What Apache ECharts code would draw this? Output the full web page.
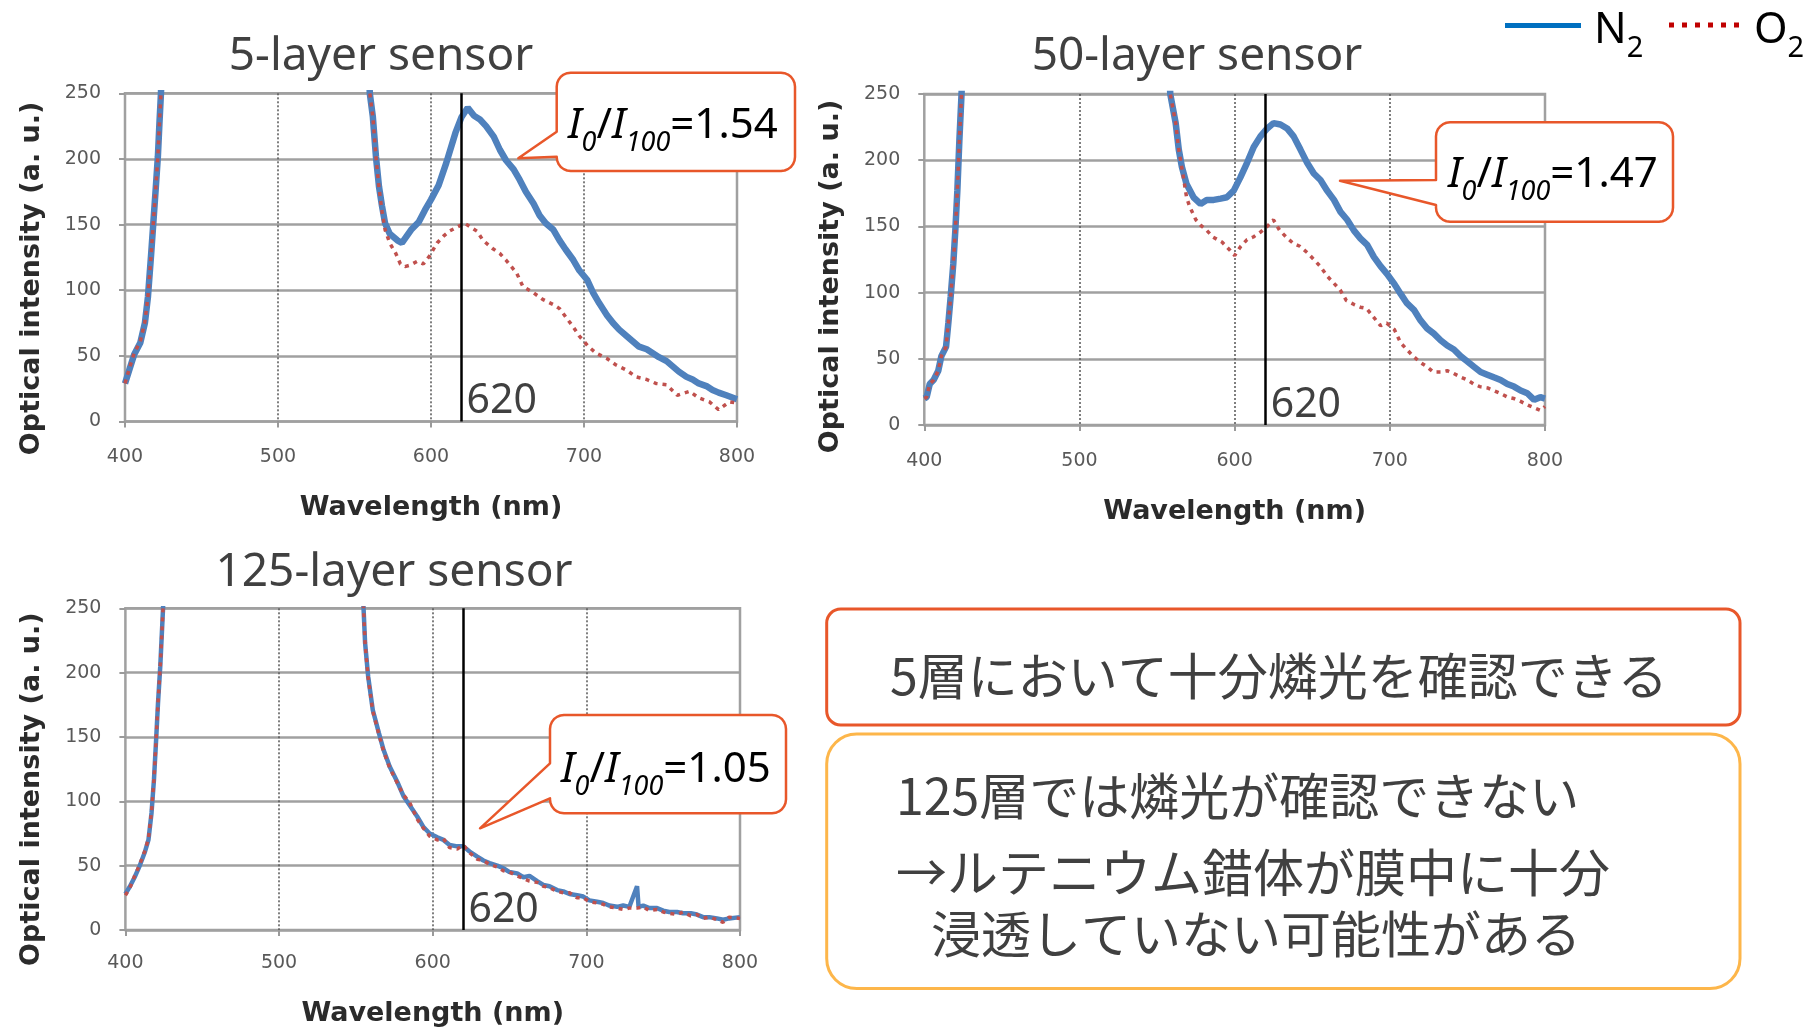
<!DOCTYPE html>
<html>
<head>
<meta charset="utf-8">
<script src="https://cdn.jsdelivr.net/npm/echarts@6/dist/echarts.min.js"></script>
<style>
  html, body { margin: 0; padding: 0; background: #fff; }
  #chart { width: 1813px; height: 1028px; }
</style>
</head>
<body>
<div id="chart"></div>
<script>
// ---- data (wavelength nm / optical intensity a.u.) ----
// values of 300 sit above the 250 top of the axis (curve runs off scale there)

// 5-layer sensor
const wl5N = [400,403,406,410,413,415,417,418.5,420,421.5,422.5,423.5,425,558.5,560,562,564,566,568,570,573,578,581,584,587,592,596,600,605,610,616,620,624,628,632,636,641,645,649,654,658,662,667,671,675,680,684,688,693,697,702,706,710,715,719,723,728,732,736,741,745,749,754,758,762,767,771,775,780,784,788,793,800];
const n2_5 = [29,40,51,60,75,95,126,151,176,202,227,250,300,300,250,232,202,179,164,151,143,138,136,141,146,152,161,169,180,197,220,232,239,233,230,225,217,207,199,192,184,175,166,157,151,146,138,131,123,115,108,98,90,81,75,70,65,61,57,55,52,49,46,42,38,34,32,29,27,24,22,20,17];
const wl5O = [400,403,406,410,413,415,417,418.5,420,421.5,422.5,423.5,425,558.5,560,562,564,566,568,570,573,577,580,583,586,591,595,599,604,608,612,617,622,626,630,634,640,645,649,656,660,667,673,680,684,693,697,703,708,715,721,728,734,741,747,754,761,769,775,782,788,795,800];
const o2_5 = [29,41,52,61,76,95,126,151,176,202,227,250,300,300,250,232,202,178,160,146,136,128,120,118,119,122,120,126,136,141,145,148,151,148,145,138,132,128,123,113,103,98,93,89,86,72,65,57,52,48,43,39,34,32,29,28,20,23,18,15,9,15,14];

// 50-layer sensor
const wl50N = [400,401.5,403.5,406,409,411,414,415.5,417,418.7,420,421.3,422.6,424,425.5,557,558.5,562,564,566,569,573.5,578,582,586.5,591,595,599.4,603.7,608,612.3,616.6,621,625,629.5,633.8,638,642.4,646.7,651,655.3,659.6,664,668.2,672.5,676.8,681,685.4,689.7,694,698.3,702.6,707,711,715.5,719.8,724,728.4,732.7,737,741.3,745.6,750,754.2,758.5,762.8,767,771.4,775.7,780,784.3,788.6,793,797,800];
const n2_50 = [20,21,31,34,41,52,59,77,97,122,147,177,215,250,300,300,250,228,208,195,182,172,167,170,170,171,172,177,187,198,210,218,224,228,227,224,218,208,198,190,185,177,170,161,155,147,141,136,127,120,114,107,99,92,87,79,73,69,64,60,57,52,48,44,40,38,36,34,31,29,26,24,19,21,20];
const wl50O = [400,401.5,403.5,406,409,411,414,415.5,417,418.7,420,421.3,422.6,424,425.5,557,558.5,562,564,567,569,571,575,578,582,586,592,597,600,604,608,612,617,621,625,629,634,638,642,647,651,655,660,664,668,672,677,681,685,694,698,703,707,711,715,720,724,728,733,737,741,746,750,754,758,763,767,771,776,780,784,789,793,797,800];
const o2_50 = [20,21,31,34,41,52,59,77,97,122,147,177,215,250,300,300,250,228,208,187,172,165,155,151,147,142,138,132,128,135,140,142,146,150,155,147,141,137,135,130,125,120,112,107,102,94,91,89,88,75,77,72,62,57,52,47,44,40,40,41,39,36,34,31,29,28,26,24,21,20,18,15,13,11,14];

// 125-layer sensor
const wl125 = [400,403,406,409,412.5,415,417,418.6,420,421.2,422.7,424.5,426,553,555,556,558,561,565,568,572,577,581,585,590,594,598,603,607,611,616,620,624,629,633,637,642,646,650,655,659,663,668,672,676,681,685,689,694,698,702,707,711,715,720,724,728,733,734,737,741,746,750,754,759,763,768,772,776,780,785,789,793,800];
const n2_125 = [28,34,41,49,60,70,91,117,148,176,205,250,300,300,250,223,197,171,153,140,127,115,104,97,88,80,75,72,70,66,65,65,61,57,54,52,50,48,45,44,41,42,38,35,34,31,30,28,27,26,23,22,21,19,18,19,18,34,18,19,17,17,15,14,14,13,13,12,10,10,9,8,9,10];
const o2_125 = [27,33,42,50,61,71,92,117,148,176,205,250,300,300,250,222,196,170,152,139,126,114,105,99,86,79,73,70,71,64,63,66,60,55,54,51,49,46,45,42,40,38,37,34,33,30,29,29,25,25,22,21,20,18,17,16,17,17,17,18,15,16,14,13,12,14,11,12,9,10,8,6,10,9];

const titles = ['5-layer sensor', '50-layer sensor', '125-layer sensor'];
const ratios = ['1.54', '1.47', '1.05'];
const yTicks = [0, 50, 100, 150, 200, 250];
const xTicks = [400, 500, 600, 700, 800];
const marker = 620;

const zip = (xs, ys) => xs.map((x, i) => [x, ys[i]]);

const grids = [
  { left: 125, top: 93.3, width: 612, height: 328.2 },
  { left: 924.3, top: 94, width: 620.7, height: 331 },
  { left: 125.4, top: 608.3, width: 614.6, height: 321.7 }
];
const xLabelMargin = [26, 27, 24];
const xNameGap = [73, 73, 70];
const yNamePad = [42, 34, 40];

const chartDom = document.getElementById('chart');
const myChart = echarts.init(chartDom);

const xAxes = grids.map((g, i) => ({
  type: 'value',
  gridIndex: i,
  min: xTicks[0],
  max: xTicks[xTicks.length - 1],
  interval: 100,
  name: 'Wavelength (nm)',
  nameLocation: 'middle',
  nameGap: xNameGap[i],
  nameTextStyle: { fontFamily: 'DejaVu Sans', fontWeight: 'bold', fontSize: 27, color: '#2b2b2b' },
  axisLine: { show: false },
  axisTick: { show: true, length: 6, lineStyle: { color: '#9a9a9a', width: 2 } },
  axisLabel: { margin: xLabelMargin[i], fontFamily: 'DejaVu Sans', fontSize: 19, color: '#595959' },
  splitLine: {
    show: true, showMinLine: false, showMaxLine: false,
    lineStyle: { color: '#555', width: 1.5, type: [2, 2] }
  }
}));

const yAxes = grids.map((g, i) => ({
  type: 'value',
  gridIndex: i,
  min: 0,
  max: 250,
  interval: 50,
  name: 'Optical intensity (a. u.)',
  nameLocation: 'middle',
  nameGap: 80,
  nameRotate: 90,
  nameTextStyle: {
    fontFamily: 'DejaVu Sans', fontWeight: 'bold', fontSize: 27, color: '#2b2b2b',
    padding: [0, yNamePad[i], 0, 0]
  },
  axisLine: { show: false },
  axisTick: { show: true, length: 6, lineStyle: { color: '#9a9a9a', width: 2 } },
  axisLabel: { margin: 24, fontFamily: 'DejaVu Sans', fontSize: 19, color: '#595959' },
  splitLine: { show: true, lineStyle: { color: '#a0a0a0', width: 2.5 } }
}));

const dataSets = [
  [zip(wl5N, n2_5), zip(wl5O, o2_5)],
  [zip(wl50N, n2_50), zip(wl50O, o2_50)],
  [zip(wl125, n2_125), zip(wl125, o2_125)]
];
const blueWidth = [6.5, 6.5, 4.5];

const series = [];
dataSets.forEach((pair, i) => {
  series.push({
    name: 'N2',
    type: 'line',
    xAxisIndex: i,
    yAxisIndex: i,
    symbol: 'none',
    clip: true,
    lineStyle: { color: '#4F81BD', width: blueWidth[i] },
    itemStyle: { color: '#4F81BD' },
    data: pair[0],
    markLine: {
      silent: true,
      symbol: 'none',
      label: { show: false },
      lineStyle: { color: '#000', width: 2.5, type: 'solid' },
      data: [[{ coord: [marker, 250] }, { coord: [marker, 0] }]]
    },
    markPoint: {
      silent: true,
      symbol: 'circle',
      symbolSize: 0,
      label: {
        show: true,
        position: 'right',
        distance: 5,
        offset: [0, -20],
        formatter: String(marker),
        fontFamily: 'Noto Sans',
        fontSize: 41,
        color: '#404040'
      },
      data: [{ coord: [marker, 0] }]
    }
  });
  series.push({
    name: 'O2',
    type: 'line',
    xAxisIndex: i,
    yAxisIndex: i,
    symbol: 'none',
    clip: true,
    lineStyle: { color: '#C0504D', width: 3.5, type: [4, 5] },
    itemStyle: { color: '#C0504D' },
    data: pair[1]
  });
});

// ---- annotation shapes (pixel positions) ----
function calloutPoints(x, y, w, h, r, b1, b2, tx, ty) {
  const pts = [];
  const arc = (cx, cy, a0, a1) => {
    for (let k = 0; k <= 6; k++) {
      const a = a0 + (a1 - a0) * k / 6;
      pts.push([cx + r * Math.cos(a), cy + r * Math.sin(a)]);
    }
  };
  arc(x + r, y + r, Math.PI, 1.5 * Math.PI);
  arc(x + w - r, y + r, 1.5 * Math.PI, 2 * Math.PI);
  arc(x + w - r, y + h - r, 0, 0.5 * Math.PI);
  arc(x + r, y + h - r, 0.5 * Math.PI, Math.PI);
  pts.push([x, b2], [tx, ty], [x, b1]);
  return pts;
}

const callouts = [
  { box: [556.7, 72.7, 238.3, 98.3], tail: [131.7, 156.7, 518.3, 158.3], text: [568, 131] },
  { box: [1436, 122.3, 237, 99.4], tail: [180, 205, 1340, 180.7], text: [1448, 180] },
  { box: [550, 715, 236, 98.3], tail: [763.3, 798.3, 480, 828.3], text: [561, 775] }
];

const ratioRich = {
  i: { fontFamily: 'Noto Sans', fontStyle: 'italic', fontSize: 42, color: '#404040', verticalAlign: 'bottom', padding: [0, 0, 9, 0] },
  s: { fontFamily: 'Noto Sans', fontStyle: 'italic', fontSize: 27, color: '#404040', verticalAlign: 'bottom' },
  a: { fontFamily: 'Noto Sans', fontSize: 42, color: '#404040', verticalAlign: 'bottom', padding: [0, 0, 9, 0] }
};

const graphics = [];
callouts.forEach((c, i) => {
  const [x, y, w, h] = c.box;
  const [b1, b2, tx, ty] = c.tail;
  graphics.push({
    type: 'polygon',
    shape: { points: calloutPoints(x, y, w, h, 14, b1, b2, tx, ty) },
    style: { fill: '#fff', stroke: '#E8572A', lineWidth: 2.5, lineJoin: 'round' },
    z: 100
  });
  graphics.push({
    type: 'text',
    z: 101,
    style: {
      x: c.text[0], y: c.text[1],
      text: '{i|I}{s|0}{a|/}{i|I}{s|100}{a|=' + ratios[i] + '}',
      rich: ratioRich,
      align: 'left', verticalAlign: 'middle',
      textAlign: 'left', textVerticalAlign: 'middle'
    }
  });
});

// legend (N2 solid blue, O2 dotted red)
const legendRich = {
  m: { fontFamily: 'Noto Sans', fontSize: 43, color: '#404040', verticalAlign: 'bottom', padding: [0, 0, 11, 0] },
  s: { fontFamily: 'Noto Sans', fontSize: 29, color: '#404040', verticalAlign: 'bottom' }
};
graphics.push({
  type: 'line', z: 100,
  shape: { x1: 1505, y1: 25.5, x2: 1581, y2: 25.5 },
  style: { stroke: '#0070C0', lineWidth: 5 }
});
graphics.push({
  type: 'line', z: 100,
  shape: { x1: 1669, y1: 25, x2: 1746, y2: 25 },
  style: { stroke: '#C00000', lineWidth: 5, lineDash: [5, 8] }
});
[['N', 1594], ['O', 1754]].forEach(t => {
  graphics.push({
    type: 'text', z: 101,
    style: {
      x: t[1], y: 36, text: '{m|' + t[0] + '}{s|2}', rich: legendRich,
      align: 'left', verticalAlign: 'middle',
      textAlign: 'left', textVerticalAlign: 'middle'
    }
  });
});

// conclusion boxes
graphics.push({
  type: 'rect', z: 100,
  shape: { x: 826.7, y: 609, width: 913.3, height: 116, r: 14 },
  style: { fill: '#fff', stroke: '#E8572A', lineWidth: 3 }
});
graphics.push({
  type: 'rect', z: 100,
  shape: { x: 826.7, y: 734, width: 913.3, height: 254.6, r: 30 },
  style: { fill: '#fff', stroke: '#FDB64A', lineWidth: 3 }
});
const jpLines = [
  ['5層において十分燐光を確認できる', 890, 676, 50],
  ['125層では燐光が確認できない', 896, 796, 50],
  ['→ルテニウム錯体が膜中に十分', 896, 873, 51],
  ['浸透していない可能性がある', 931, 934, 50]
];
jpLines.forEach(l => {
  graphics.push({
    type: 'text', z: 101,
    style: {
      x: l[1], y: l[2], text: l[0],
      fontFamily: 'Noto Sans CJK JP', fontSize: l[3], fill: '#404040',
      align: 'left', verticalAlign: 'middle',
      textAlign: 'left', textVerticalAlign: 'middle'
    }
  });
});

const titleCenters = [[381, 34], [1197, 34], [394, 550]];

const option = {
  animation: false,
  backgroundColor: '#fff',
  title: titles.map((t, i) => ({
    text: t,
    left: titleCenters[i][0],
    top: titleCenters[i][1],
    textAlign: 'center',
    padding: 0,
    textStyle: { fontFamily: 'Noto Sans', fontWeight: 'normal', fontSize: 46, color: '#404040' }
  })),
  grid: grids.map(g => Object.assign({ show: true, borderColor: '#a0a0a0', borderWidth: 2.5, backgroundColor: 'transparent' }, g)),
  xAxis: xAxes,
  yAxis: yAxes,
  series: series,
  graphic: { elements: graphics }
};

myChart.setOption(option);
</script>
</body>
</html>
